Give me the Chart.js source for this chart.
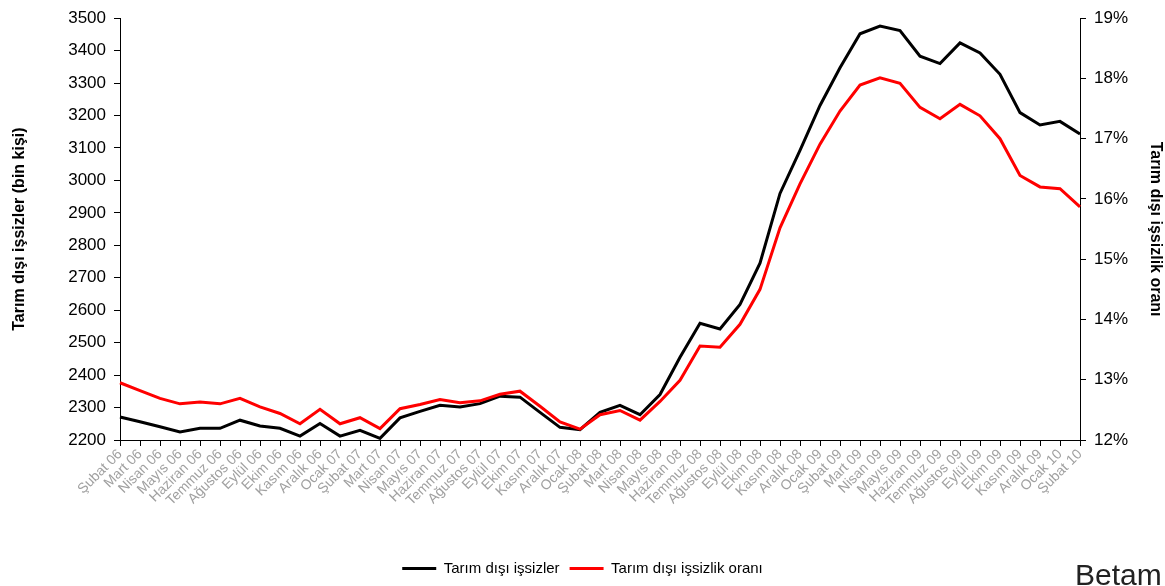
<!DOCTYPE html>
<html>
<head>
<meta charset="utf-8">
<script src="https://cdn.jsdelivr.net/npm/chart.js@4.4.1/dist/chart.umd.min.js"></script>
<style>
  html, body { margin: 0; padding: 0; background: #fff; }
  #wrap { width: 1165px; height: 586px; }
</style>
</head>
<body>
<div id="wrap"><canvas id="chart"></canvas></div>
<script>
// aylar
const months = [
  'Şubat 06', 'Mart 06', 'Nisan 06', 'Mayıs 06', 'Haziran 06', 'Temmuz 06', 'Ağustos 06', 'Eylül 06', 'Ekim 06', 'Kasım 06', 'Aralık 06',
  'Ocak 07', 'Şubat 07', 'Mart 07', 'Nisan 07', 'Mayıs 07', 'Haziran 07', 'Temmuz 07', 'Ağustos 07', 'Eylül 07', 'Ekim 07', 'Kasım 07', 'Aralık 07',
  'Ocak 08', 'Şubat 08', 'Mart 08', 'Nisan 08', 'Mayıs 08', 'Haziran 08', 'Temmuz 08', 'Ağustos 08', 'Eylül 08', 'Ekim 08', 'Kasım 08', 'Aralık 08',
  'Ocak 09', 'Şubat 09', 'Mart 09', 'Nisan 09', 'Mayıs 09', 'Haziran 09', 'Temmuz 09', 'Ağustos 09', 'Eylül 09', 'Ekim 09', 'Kasım 09', 'Aralık 09',
  'Ocak 10', 'Şubat 10'
];

// bin kişi
const unemployed = [
  2271, 2256, 2241, 2225, 2236, 2236, 2261, 2243, 2236, 2212,
  2251, 2212, 2230, 2205, 2268, 2288, 2307, 2302, 2312, 2335,
  2332, 2285, 2239, 2232, 2285, 2307, 2278, 2340, 2455, 2560,
  2542, 2618, 2745, 2960, 3093, 3231, 3347, 3452, 3476, 3462,
  3383, 3360, 3424, 3393, 3327, 3209, 3171, 3182, 3143
];

// yüzde
const rate = [
  12.95, 12.82, 12.69, 12.60, 12.63, 12.60, 12.69, 12.55, 12.44, 12.27,
  12.51, 12.27, 12.37, 12.19, 12.52, 12.59, 12.67, 12.62, 12.65, 12.76,
  12.81, 12.56, 12.30, 12.18, 12.42, 12.49, 12.33, 12.64, 12.99, 13.56,
  13.54, 13.92, 14.50, 15.52, 16.25, 16.91, 17.46, 17.89, 18.01, 17.92,
  17.52, 17.33, 17.57, 17.38, 17.00, 16.39, 16.20, 16.17, 15.87
];

const leftTicks = { min: 2200, max: 3500, step: 100 };
const rightTicks = { min: 12, max: 19, step: 1 };

const FONT = "'Liberation Sans', Arial, sans-serif";

// logo yazısı
const logoText = {
  id: 'logoText',
  afterDraw(chart) {
    const c = chart.ctx;
    c.save();
    c.font = '30px ' + FONT;
    c.fillStyle = '#222';
    c.textAlign = 'left';
    c.textBaseline = 'bottom';
    c.fillText('Betam', 1075, 592);
    c.restore();
  }
};

const ctx = document.getElementById('chart').getContext('2d');
new Chart(ctx, {
  type: 'line',
  data: {
    labels: months,
    datasets: [
      {
        label: 'Tarım dışı işsizler',
        data: unemployed,
        yAxisID: 'y',
        borderColor: '#000000',
        backgroundColor: '#000000',
        borderWidth: 3,
        pointRadius: 0,
        tension: 0,
        order: 2
      },
      {
        label: 'Tarım dışı işsizlik oranı',
        data: rate,
        yAxisID: 'y1',
        borderColor: '#ff0000',
        backgroundColor: '#ff0000',
        borderWidth: 3,
        pointRadius: 0,
        tension: 0,
        order: 1
      }
    ]
  },
  options: {
    responsive: true,
    maintainAspectRatio: false,
    animation: false,
    layout: { padding: { top: 13, left: 0, right: 0, bottom: 0 } },
    plugins: {
      tooltip: { enabled: false },
      legend: {
        position: 'bottom',
        labels: {
          usePointStyle: true,
          pointStyle: 'line',
          pointStyleWidth: 34,
          boxHeight: 3,
          color: '#000',
          font: { family: FONT, size: 15 },
          padding: 10,
          sort: (a, b) => a.datasetIndex - b.datasetIndex
        }
      }
    },
    scales: {
      x: {
        offset: false,
        grid: { drawOnChartArea: false, drawTicks: true, tickLength: 6, color: '#000' },
        border: { color: '#000', width: 1 },
        ticks: {
          autoSkip: false,
          minRotation: 45,
          maxRotation: 45,
          color: '#a0a0a0',
          font: { family: FONT, size: 14 },
          padding: 0
        },
        afterFit(scale) { scale.height = 111; }
      },
      y: {
        position: 'left',
        min: leftTicks.min,
        max: leftTicks.max,
        grid: { drawOnChartArea: false, drawTicks: true, tickLength: 6, color: '#000' },
        border: { color: '#000', width: 1 },
        ticks: {
          stepSize: leftTicks.step,
          color: '#000',
          font: { family: FONT, size: 17 },
          padding: 8,
          callback: v => String(v)
        },
        title: {
          display: true,
          text: 'Tarım dışı işsizler (bin kişi)',
          color: '#000',
          font: { family: FONT, size: 16, weight: 'bold' },
          padding: { top: 10, bottom: 0 }
        },
        afterFit(scale) { scale.width = 120; }
      },
      y1: {
        position: 'right',
        min: rightTicks.min,
        max: rightTicks.max,
        grid: { drawOnChartArea: false, drawTicks: true, tickLength: 6, color: '#000' },
        border: { color: '#000', width: 1 },
        ticks: {
          stepSize: rightTicks.step,
          color: '#000',
          font: { family: FONT, size: 17 },
          padding: 8,
          callback: v => v + '%'
        },
        title: {
          display: true,
          text: 'Tarım dışı işsizlik oranı',
          color: '#000',
          font: { family: FONT, size: 16, weight: 'bold' },
          padding: { top: 0, bottom: 2 }
        },
        afterFit(scale) { scale.width = 85; }
      }
    }
  },
  plugins: [logoText]
});
</script>
</body>
</html>
